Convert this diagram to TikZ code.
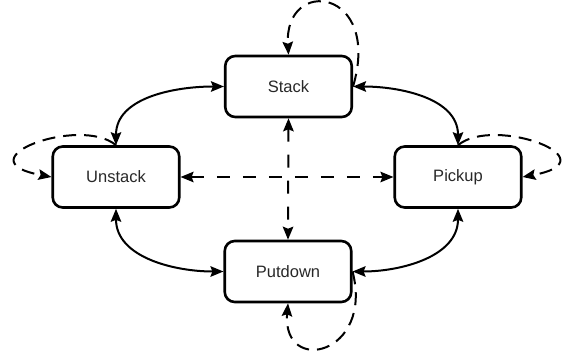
\documentclass[tikz,border=0pt]{standalone}
\usepackage{fontspec}
\setmainfont{Liberation Sans}
\usetikzlibrary{arrows.meta}
\definecolor{txt}{RGB}{40,40,40}
\begin{document}
\begin{tikzpicture}[x=1pt,y=1pt,
  state/.style={draw, line width=2.6pt, rounded corners=10pt, minimum width=126.5pt, minimum height=61pt, inner sep=0pt, font=\fontsize{16.5}{19}\selectfont, text=txt},
  both/.style={line width=2pt, {Stealth[length=13pt,width=10.5pt,inset=2pt]}-{Stealth[length=13pt,width=10.5pt,inset=2pt]}},
  onearrow/.style={line width=2pt, -{Stealth[length=13pt,width=10.5pt,inset=2pt]}},
  longdash/.style={dash pattern=on 13pt off 13pt},
  loopdash/.style={dash pattern=on 13pt off 8pt}
]
\useasboundingbox (0,0) rectangle (569,360);

\node[state] (Stack)   at (288.5,273.5) {Stack};
\node[state] (Unstack) at (116,183)     {Unstack};
\node[state] (Pickup)  at (458,183)     {Pickup};
\node[state] (Putdown) at (288,88.5)    {Putdown};

% solid curved connectors
\draw[both] (Stack.west) to[out=180,in=90] (Unstack.north);
\draw[both] (Stack.east) to[out=0,in=90] (Pickup.north);
\draw[both] (Unstack.south) to[out=-90,in=180] (Putdown.west);
\draw[both] (Pickup.south) to[out=-90,in=0] (Putdown.east);

% dashed straight connectors
\draw[both, longdash] (Unstack.east) -- (Pickup.west);
\draw[both, longdash] (Stack.south) -- (Putdown.north);

% dashed self loops
\draw[onearrow, loopdash] (Stack.east) .. controls (382,372) and (284,384) .. (Stack.north);
\draw[onearrow, loopdash] (Putdown.east) .. controls (374,5) and (282,-16) .. (Putdown.south);
\draw[onearrow, loopdash] (Unstack.north) .. controls (80,245) and (-40,200) .. (Unstack.west);
\draw[onearrow, loopdash] (Pickup.north) .. controls (494,245) and (614,200) .. (Pickup.east);
\end{tikzpicture}
\end{document}
